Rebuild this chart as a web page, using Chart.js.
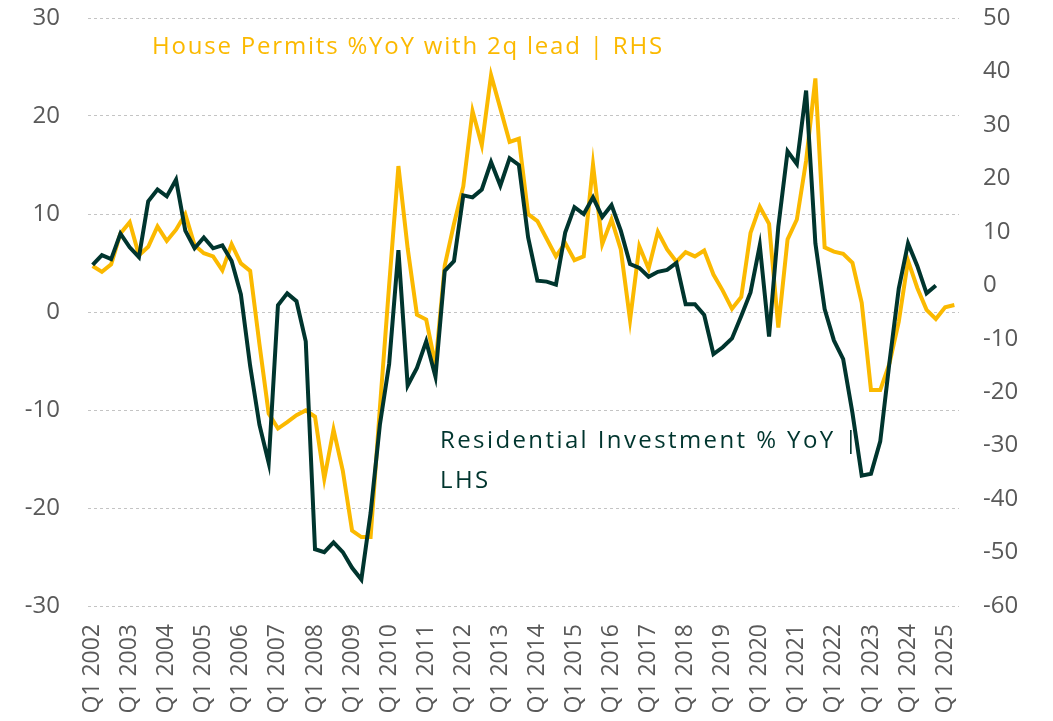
<!DOCTYPE html>
<html>
<head>
<meta charset="utf-8">
<title>Residential investment vs house permits</title>
<script src="https://cdn.jsdelivr.net/npm/chart.js@4"></script>
<style>
  html, body { margin: 0; padding: 0; background: #fff; }
  #wrap { position: relative; width: 1053px; height: 721px; }
</style>
</head>
<body>
<div id="wrap"><canvas id="chart"></canvas></div>
<script>
// Quarterly, Q1 2002 .. Q2 2025
const years = [2002, 2003, 2004, 2005, 2006, 2007, 2008, 2009, 2010, 2011, 2012, 2013,
  2014, 2015, 2016, 2017, 2018, 2019, 2020, 2021, 2022, 2023, 2024, 2025]
const quarters = []
years.forEach(y => ['Q1', 'Q2', 'Q3', 'Q4'].forEach(q => quarters.push(q + ' ' + y)))
const categories = quarters.slice(0, 94)

// Residential investment % YoY (left axis)
const resInvestment = [
  4.8, 5.8, 5.4, 8.0, 6.6, 5.6, 11.3, 12.5, 11.8, 13.5, 8.3, 6.5,
  7.6, 6.5, 6.8, 5.2, 1.8, -5.5, -11.5, -15.4, 0.7, 1.9, 1.1, -3.0,
  -24.2, -24.5, -23.5, -24.5, -26.1, -27.3, -20.5, -11.5, -5.3, 6.3, -7.5, -5.7,
  -3.0, -6.6, 4.2, 5.2, 11.9, 11.7, 12.5, 15.3, 12.9, 15.7, 15.0, 7.6,
  3.2, 3.1, 2.8, 8.1, 10.7, 10.0, 11.7, 9.7, 10.9, 8.3, 4.9, 4.5,
  3.6, 4.1, 4.3, 5.0, 0.8, 0.8, -0.3, -4.3, -3.6, -2.7, -0.4, 2.0,
  6.8, -2.5, 8.7, 16.4, 15.1, 22.6, 7.0, 0.3, -2.9, -4.8, -10.3, -16.7,
  -16.5, -13.2, -5.1, 2.4, 7.0, 4.7, 1.9, 2.7, null, null
]

// House permits % YoY, shifted forward two quarters (right axis)
const housePermits = [
  3.6, 2.5, 3.9, 9.7, 11.8, 5.6, 7.2, 11.0, 8.3, 10.4, 13.3, 7.5,
  6.0, 5.4, 2.8, 7.7, 4.1, 2.7, -11.0, -24.0, -26.8, -25.6, -24.3, -23.4,
  -24.6, -36.2, -27.0, -34.7, -45.9, -47.1, -47.1, -23.0, 0.0, 22.3, 6.9, -5.5,
  -6.4, -15.0, 3.7, 11.5, 18.5, 32.6, 26.2, 39.3, 33.1, 26.8, 27.4, 13.3,
  12.0, 8.7, 5.4, 7.9, 4.7, 5.4, 22.6, 7.7, 12.3, 6.7, -6.5, 7.3,
  3.1, 10.0, 6.7, 4.4, 6.2, 5.4, 6.5, 2.0, -1.0, -4.4, -2.2, 9.8,
  14.7, 11.5, -7.9, 8.6, 12.3, 23.3, 38.7, 7.1, 6.3, 5.9, 4.2, -3.3,
  -19.6, -19.6, -14.6, -6.8, 4.6, -0.5, -4.6, -6.3, -4.1, -3.7
]

const leftTicks = [-30, -20, -10, 0, 10, 20, 30]
const rightTicks = [-60, -50, -40, -30, -20, -10, 0, 10, 20, 30, 40, 50]

const GREEN = '#00352e'
const YELLOW = '#fbb900'
const TICK_COLOR = '#595959'
const FONT = '"Open Sans", sans-serif'

// series names drawn straight onto the plot
const seriesNotes = {
  id: 'seriesNotes',
  afterDatasetsDraw(chart) {
    const ctx = chart.ctx
    ctx.save()
    ctx.font = '24px ' + FONT
    ctx.textBaseline = 'middle'
    ctx.textAlign = 'left'
    ctx.letterSpacing = '1.8px'
    ctx.fillStyle = YELLOW
    ctx.fillText('House Permits %YoY with 2q lead | RHS', 152, 47)
    ctx.letterSpacing = '2.4px'
    ctx.fillStyle = GREEN
    ctx.fillText('Residential Investment % YoY |', 440, 441)
    ctx.fillText('LHS', 440, 481)
    ctx.restore()
  }
}

// keep the plot edges fixed: the value axes ask for no extra top/bottom room
const fixAxis = (width) => (scale) => {
  scale.width = width
  scale.paddingTop = 0
  scale.paddingBottom = 0
}

const ctx = document.getElementById('chart').getContext('2d')
new Chart(ctx, {
  type: 'line',
  data: {
    labels: categories,
    datasets: [
      {
        label: 'Residential Investment % YoY | LHS',
        data: resInvestment,
        yAxisID: 'y',
        borderColor: GREEN,
        borderWidth: 4,
        pointRadius: 0,
        tension: 0,
        spanGaps: false
      },
      {
        label: 'House Permits %YoY with 2q lead | RHS',
        data: housePermits,
        yAxisID: 'y1',
        borderColor: YELLOW,
        borderWidth: 4,
        pointRadius: 0,
        tension: 0
      }
    ]
  },
  options: {
    responsive: true,
    maintainAspectRatio: false,
    animation: false,
    devicePixelRatio: 1,
    layout: { padding: { top: 18, left: 0, right: 0, bottom: 0 } },
    plugins: {
      legend: { display: false },
      tooltip: { enabled: false }
    },
    scales: {
      x: {
        type: 'category',
        offset: true,
        grid: { display: false },
        border: { display: false },
        ticks: {
          autoSkip: false,
          maxRotation: 90,
          minRotation: 90,
          padding: 10,
          color: TICK_COLOR,
          font: { family: FONT, size: 23 },
          callback: (value, index) => index % 4 === 0 ? categories[index] : ''
        },
        afterFit: (scale) => { scale.height = 115 }
      },
      y: {
        position: 'left',
        min: -30,
        max: 30,
        afterBuildTicks: (scale) => { scale.ticks = leftTicks.map(v => ({ value: v })) },
        grid: { color: '#c4c4c4', lineWidth: 1, drawTicks: false },
        border: { display: false, dash: [3, 3] },
        ticks: {
          padding: 28,
          color: TICK_COLOR,
          font: { family: FONT, size: 24 }
        },
        afterFit: fixAxis(88)
      },
      y1: {
        position: 'right',
        min: -60,
        max: 50,
        afterBuildTicks: (scale) => { scale.ticks = rightTicks.map(v => ({ value: v })) },
        grid: { display: false, drawTicks: false },
        border: { display: false },
        ticks: {
          padding: 24,
          color: TICK_COLOR,
          font: { family: FONT, size: 24 }
        },
        afterFit: fixAxis(94)
      }
    }
  },
  plugins: [seriesNotes]
})
</script>
</body>
</html>
